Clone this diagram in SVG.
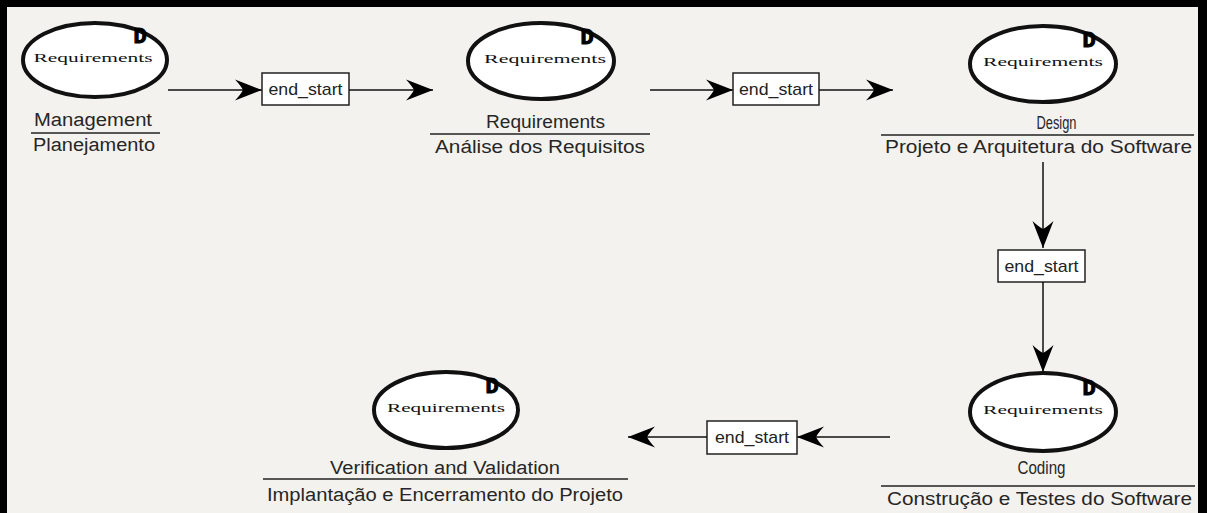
<svg xmlns="http://www.w3.org/2000/svg" width="1207" height="513" viewBox="0 0 1207 513">
  <style>
    .bg { fill: #f4f2ef; }
    .frame { fill: #000; }
    .oval { fill: #fff; stroke: #111; stroke-width: 4; }
    .kind { font-family: "Liberation Serif", "DejaVu Serif", serif; font-size: 13px; fill: #111; text-anchor: middle; }
    .flag { font-family: "Liberation Mono", "DejaVu Sans Mono", monospace; font-size: 22px; font-weight: bold; fill: #000; stroke: #000; stroke-width: 1; text-anchor: middle; }
    .lbl { font-family: "Liberation Sans", Arial, sans-serif; font-size: 18px; fill: #262626; text-anchor: middle; }
    .rule { stroke: #222; stroke-width: 1.5; }
    .wire { stroke: #111; stroke-width: 1.5; fill: none; }
    .box { fill: #fff; stroke: #222; stroke-width: 1.5; }
    .boxtxt { font-family: "Liberation Sans", Arial, sans-serif; font-size: 17px; fill: #222; text-anchor: middle; }
  </style>
  <defs>
    <!-- heavy barbed arrowhead used by every connector -->
    <marker id="barb" viewBox="-30 -12 32 24" refX="0" refY="0" markerWidth="32" markerHeight="24" markerUnits="userSpaceOnUse" orient="auto">
      <path d="M0,0 L-27,-10.5 Q-21,-4 -19,0 Q-21,4 -27,10.5 Z" fill="#000"/>
    </marker>
  </defs>

  <!-- canvas and frame -->
  <rect class="bg" x="0" y="0" width="1207" height="513"/>
  <rect class="frame" x="0" y="0" width="1207" height="7"/>
  <rect class="frame" x="0" y="0" width="7" height="513"/>
  <rect class="frame" x="1198" y="0" width="9" height="513"/>

  <!-- connectors -->
  <g id="connectors">
    <g id="e-management-requirements">
      <line class="wire" x1="168" y1="90" x2="262" y2="90" marker-end="url(#barb)"/>
      <rect class="box" x="262" y="73" width="87" height="32"/>
      <text class="boxtxt" x="305.5" y="95" textLength="74" lengthAdjust="spacingAndGlyphs">end_start</text>
      <line class="wire" x1="349" y1="90" x2="433" y2="90" marker-end="url(#barb)"/>
    </g>
    <g id="e-requirements-design">
      <line class="wire" x1="650" y1="90" x2="733" y2="90" marker-end="url(#barb)"/>
      <rect class="box" x="733" y="73" width="86" height="32"/>
      <text class="boxtxt" x="776" y="95" textLength="74" lengthAdjust="spacingAndGlyphs">end_start</text>
      <line class="wire" x1="819" y1="90" x2="893" y2="90" marker-end="url(#barb)"/>
    </g>
    <g id="e-design-coding">
      <line class="wire" x1="1043" y1="162" x2="1043" y2="248" marker-end="url(#barb)"/>
      <rect class="box" x="998" y="250" width="87" height="32"/>
      <text class="boxtxt" x="1041.5" y="272" textLength="74" lengthAdjust="spacingAndGlyphs">end_start</text>
      <line class="wire" x1="1043" y1="282" x2="1043" y2="372" marker-end="url(#barb)"/>
    </g>
    <g id="e-coding-verification">
      <line class="wire" x1="890" y1="437" x2="797" y2="437" marker-end="url(#barb)"/>
      <rect class="box" x="707" y="421" width="90" height="33"/>
      <text class="boxtxt" x="752" y="443" textLength="74" lengthAdjust="spacingAndGlyphs">end_start</text>
      <line class="wire" x1="707" y1="437" x2="628" y2="437" marker-end="url(#barb)"/>
    </g>
  </g>

  <!-- phase nodes -->
  <g id="node-management">
    <ellipse class="oval" cx="95" cy="60" rx="72" ry="37"/>
    <text class="kind" x="93" y="62" textLength="119" lengthAdjust="spacingAndGlyphs">Requirements</text>
    <text class="flag" x="140" y="43">D</text>
    <text class="lbl" x="93" y="126" textLength="118" lengthAdjust="spacingAndGlyphs">Management</text>
    <line class="rule" x1="31" y1="133" x2="160" y2="133"/>
    <text class="lbl" x="94" y="151" textLength="122" lengthAdjust="spacingAndGlyphs">Planejamento</text>
  </g>

  <g id="node-requirements">
    <ellipse class="oval" cx="541" cy="61" rx="73" ry="38"/>
    <text class="kind" x="545" y="63" textLength="122" lengthAdjust="spacingAndGlyphs">Requirements</text>
    <text class="flag" x="587" y="44">D</text>
    <text class="lbl" x="545.5" y="128" textLength="119" lengthAdjust="spacingAndGlyphs">Requirements</text>
    <line class="rule" x1="430" y1="134" x2="650" y2="134"/>
    <text class="lbl" x="540" y="153" textLength="210" lengthAdjust="spacingAndGlyphs">Análise dos Requisitos</text>
  </g>

  <g id="node-design">
    <ellipse class="oval" cx="1043" cy="64" rx="73" ry="38"/>
    <text class="kind" x="1043" y="66" textLength="120" lengthAdjust="spacingAndGlyphs">Requirements</text>
    <text class="flag" x="1089" y="47">D</text>
    <text class="lbl" x="1056.5" y="129" textLength="40" lengthAdjust="spacingAndGlyphs">Design</text>
    <line class="rule" x1="881" y1="135" x2="1194" y2="135"/>
    <text class="lbl" x="1038.5" y="153" textLength="307" lengthAdjust="spacingAndGlyphs">Projeto e Arquitetura do Software</text>
  </g>

  <g id="node-coding">
    <ellipse class="oval" cx="1043" cy="412" rx="73" ry="39"/>
    <text class="kind" x="1043" y="414" textLength="120" lengthAdjust="spacingAndGlyphs">Requirements</text>
    <text class="flag" x="1089" y="395">D</text>
    <text class="lbl" x="1041.5" y="474" textLength="48" lengthAdjust="spacingAndGlyphs">Coding</text>
    <line class="rule" x1="881" y1="486" x2="1195" y2="486"/>
    <text class="lbl" x="1039.5" y="505" textLength="305" lengthAdjust="spacingAndGlyphs">Construção e Testes do Software</text>
  </g>

  <g id="node-verification">
    <ellipse class="oval" cx="446" cy="410" rx="72" ry="38"/>
    <text class="kind" x="446" y="412" textLength="118" lengthAdjust="spacingAndGlyphs">Requirements</text>
    <text class="flag" x="492" y="393">D</text>
    <text class="lbl" x="445" y="474" textLength="230" lengthAdjust="spacingAndGlyphs">Verification and Validation</text>
    <line class="rule" x1="263" y1="479" x2="628" y2="479"/>
    <text class="lbl" x="445" y="501" textLength="356" lengthAdjust="spacingAndGlyphs">Implantação e Encerramento do Projeto</text>
  </g>
</svg>
